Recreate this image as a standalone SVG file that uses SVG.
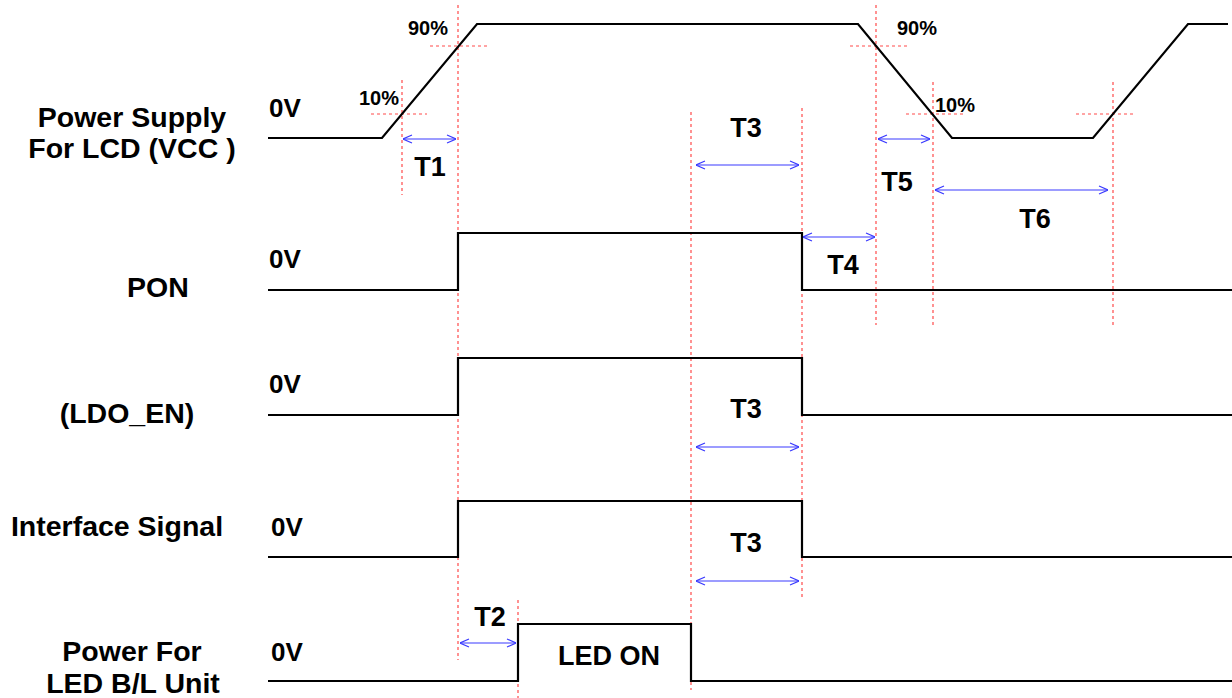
<svg xmlns="http://www.w3.org/2000/svg" width="1232" height="698" viewBox="0 0 1232 698">
<style>
text{font-family:"Liberation Sans",Arial,sans-serif;font-weight:bold;fill:#000}
.lbl{font-size:28.5px;text-anchor:middle}
.zv{font-size:26px}
.pc{font-size:20px;text-anchor:middle}
.t{font-size:27px;text-anchor:middle}
.wave{fill:none;stroke:#000;stroke-width:2.2}
.guide{fill:none;stroke:#ff4a4a;stroke-width:1.2;stroke-dasharray:3 3}
.dim{fill:none;stroke:#3a3aff;stroke-width:1.2;marker-start:url(#ah);marker-end:url(#ah)}
</style>
<defs>
<marker id="ah" viewBox="0 0 10 10" refX="10" refY="5" markerWidth="10" markerHeight="10" markerUnits="userSpaceOnUse" orient="auto-start-reverse">
<path d="M1,1 L10,5 L1,9" fill="none" stroke="#3a3aff" stroke-width="1.2"/>
</marker>
</defs>
<rect width="1232" height="698" fill="#fff"/>

<g id="guides">
<line class="guide" x1="402" y1="80" x2="402" y2="195"/>
<line class="guide" x1="458" y1="5" x2="458" y2="660"/>
<line class="guide" x1="518" y1="600" x2="518" y2="698"/>
<line class="guide" x1="691" y1="112" x2="691" y2="690"/>
<line class="guide" x1="802" y1="108" x2="802" y2="600"/>
<line class="guide" x1="876" y1="5" x2="876" y2="325"/>
<line class="guide" x1="933" y1="82" x2="933" y2="327"/>
<line class="guide" x1="1113" y1="82" x2="1113" y2="327"/>
<line class="guide" x1="371" y1="114" x2="427" y2="114"/>
<line class="guide" x1="430" y1="46" x2="487" y2="46"/>
<line class="guide" x1="850" y1="46" x2="907" y2="46"/>
<line class="guide" x1="906" y1="114" x2="963" y2="114"/>
<line class="guide" x1="1076" y1="114" x2="1133" y2="114"/>
</g>

<g id="vcc">
<text class="lbl" x="132" y="127">Power Supply</text>
<text class="lbl" x="132" y="158">For LCD (VCC )</text>
<text class="zv" x="269" y="117">0V</text>
<polyline class="wave" points="268,138 382,138 477,24 858,24 952,138 1093,138 1188,24 1228,24"/>
<text class="pc" x="428" y="35">90%</text>
<text class="pc" x="379" y="105">10%</text>
<text class="pc" x="917" y="35">90%</text>
<text class="pc" x="955" y="112">10%</text>
</g>

<g id="pon">
<text class="lbl" x="158" y="297">PON</text>
<text class="zv" x="269" y="268">0V</text>
<polyline class="wave" points="268,290 458,290 458,233 802,233 802,290 1232,290"/>
</g>

<g id="ldo">
<text class="lbl" x="127" y="423">(LDO_EN)</text>
<text class="zv" x="269" y="393">0V</text>
<polyline class="wave" points="268,415 458,415 458,358 802,358 802,415 1232,415"/>
</g>

<g id="iface">
<text class="lbl" x="117" y="536">Interface Signal</text>
<text class="zv" x="271" y="536">0V</text>
<polyline class="wave" points="268,557 458,557 458,501 802,501 802,557 1232,557"/>
</g>

<g id="led">
<text class="lbl" x="132" y="661">Power For</text>
<text class="lbl" x="133" y="693">LED B/L Unit</text>
<text class="zv" x="271" y="661">0V</text>
<polyline class="wave" points="268,681 518,681 518,624 691,624 691,681 1232,681"/>
<text class="t" x="609" y="665">LED ON</text>
</g>

<g id="connectors">
<line class="dim" x1="403" y1="139" x2="456" y2="139"/>
<line class="dim" x1="460" y1="643" x2="516" y2="643"/>
<line class="dim" x1="696" y1="165" x2="799" y2="165"/>
<line class="dim" x1="696" y1="447" x2="799" y2="447"/>
<line class="dim" x1="696" y1="581" x2="799" y2="581"/>
<line class="dim" x1="803" y1="237" x2="875" y2="237"/>
<line class="dim" x1="878" y1="139" x2="930" y2="139"/>
<line class="dim" x1="935" y1="190" x2="1108" y2="190"/>
</g>

<g id="timing-labels">
<text class="t" x="430" y="176">T1</text>
<text class="t" x="490" y="626">T2</text>
<text class="t" x="746" y="137">T3</text>
<text class="t" x="746" y="418">T3</text>
<text class="t" x="746" y="552">T3</text>
<text class="t" x="843" y="274">T4</text>
<text class="t" x="897" y="191">T5</text>
<text class="t" x="1035" y="228">T6</text>
</g>
</svg>
